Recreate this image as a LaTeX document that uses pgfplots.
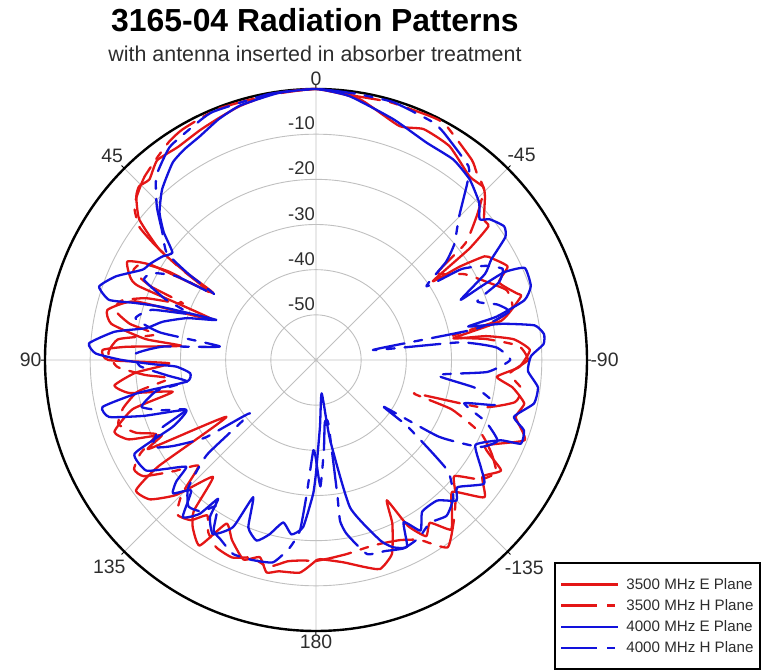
\documentclass[border=0pt]{standalone}
\usepackage{fontspec}
\setmainfont{Liberation Sans}
\usepackage{pgfplots}
\pgfplotsset{compat=1.18}
\usepgfplotslibrary{polar}
\definecolor{cRed}{RGB}{228,22,22}
\definecolor{cBlue}{RGB}{18,18,220}
\definecolor{gridgray}{RGB}{192,192,192}
\definecolor{lbl}{RGB}{45,45,45}
\begin{document}
\begin{tikzpicture}
\begin{polaraxis}[
  name=pa,
  scale only axis, width=542bp, height=542bp,
  xmin=0, xmax=360, ymin=0, ymax=60,
  clip=false,
  xtick={0,45,...,315},
  xticklabels={-90,-45,0,45,90,135,180,-135},
  ytick={10,20,30,40,50},
  yticklabels={},
  ytick style={draw=none},
  grid=major,
  major grid style={gridgray, line width=0.9bp},
  axis line style={black, line width=2.4bp},
  y axis line style={draw=none},
  x tick style={black, line width=1bp},
  major tick length=4bp,
  xticklabel style={font=\fontsize{19.5}{19.5}\selectfont, text=lbl},
  x filter/.expression={x+90},
  y filter/.expression={y+60},
  every axis plot/.append style={line width=2.3bp, line join=round, line cap=round, smooth, tension=0.3},
  legend style={at={(axis description cs:0.939,0.127)}, anchor=north west,
    draw=black, line width=2bp, fill=white,
    font=\fontsize{15.2}{15.2}\selectfont, text=lbl,
    inner xsep=5bp, inner ysep=13bp, row sep=4.8bp,
    cells={anchor=west}},
  legend image code/.code={\draw[#1, line width=2.6bp, line cap=butt, sharp plot] (0bp,0bp) -- (57bp,0bp); \path (62bp,0bp);},
]
% 3500 MHz E Plane
\addplot[cRed] coordinates {
(-180,-15.6) (-178.8,-15.9) (-172.3,-14.8) (-167,-13) (-162.9,-11.6) (-158.6,-13.9) (-155,-20) (-153.2,-25.2)
(-151,-18) (-148,-14) (-145,-16) (-141.5,-12) (-138,-15) (-134,-18) (-129.2,-11.9) (-125,-15) (-120.8,-12.3)
(-117,-18) (-111,-10.5) (-106,-14) (-101.8,-12.9) (-98,-16) (-95.3,-19.8) (-92,-15) (-87.3,-12.6) (-84,-16)
(-82,-22) (-81,-29.2) (-78,-18) (-72.8,-12.5) (-71.6,-13.2) (-67,-16) (-64,-12.8) (-60,-15) (-58.4,-16.2)
(-57,-22) (-56,-28.8) (-54,-18) (-52.2,-11.7) (-50.1,-11.5) (-46,-8) (-44,-6.7) (-39.9,-7) (-32,-4.2)
(-25,-3.6) (-19.6,-5) (-9.4,-1.4) (0,0)
(9.2,-0.3) (16.7,-1.3) (22,-2.3) (26.8,-3) (33,-3.8) (38.5,-3.5) (42.7,-5.6) (45.5,-5.1) (47.7,-6.2)
(51.5,-10) (54.8,-17.6) (56,-25) (57,-32.8) (60,-18) (62.4,-12.9) (66,-15) (67.4,-17.6) (68.7,-35.5)
(72,-18) (76.5,-12.5) (80,-14) (83,-22) (84,-30) (86,-18) (87.3,-12.7) (90,-14) (91.3,-27.5) (94,-20)
(97.2,-15) (100,-18) (102.5,-27.5) (105,-18) (109.6,-12.6) (113,-15) (116,-22) (118,-18) (122.4,-36.5)
(124,-18) (125.9,-10.8) (130,-12) (134,-17) (138.6,-25.5) (141,-17) (143.6,-14) (147.9,-11.5) (151.3,-18.7)
(155,-16) (160,-13) (164.1,-14.6) (166.9,-11.7) (170,-12.5) (175.7,-12.8) (180,-15.6)
};
\addlegendentry{3500 MHz E Plane}
% 3500 MHz H Plane
\addplot[cRed, dash pattern=on 36bp off 10bp on 8bp off 10bp] coordinates {
(-180,-15.5) (-176,-16) (-171,-16.5) (-165,-17) (-160.8,-16.9) (-155,-16) (-150,-14) (-144.9,-9.3)
(-138.7,-13.6) (-134,-17) (-130,-20) (-126,-15) (-122,-13) (-118,-16) (-114,-20) (-110,-28) (-108.8,-37.1)
(-106,-22) (-102,-15) (-98,-14) (-94,-17) (-90,-13.1) (-86,-15) (-83,-22) (-80.2,-29.7) (-78,-20) (-75,-15)
(-70,-15) (-66,-18) (-60,-22) (-54.4,-26.9) (-52,-18) (-48,-12) (-44.5,-7) (-40.5,-5.3) (-37.8,-3.8)
(-28.7,-0.5) (-25,-0.4) (-16,-0.6) (-8.6,-0.9) (0,0)
(10,-0.4) (21.4,-0.3) (30,-1) (33.8,-1.7) (38,-3) (43,-4.4) (46,-5.6) (49.8,-7.3) (53,-11) (54.6,-16.7)
(56,-24) (57.5,-32) (59,-22) (61,-16) (64,-15) (66,-20) (67,-28) (70,-20) (73,-15) (76,-14) (79,-18)
(81,-24) (84,-16) (88,-14) (92,-16) (95,-22) (97.2,-27.3) (100,-20) (104,-16) (108,-14) (112,-17)
(115,-21) (118,-16) (121,-13) (124,-14) (128,-20) (132,-25) (135,-18) (138,-14) (142,-15) (145,-18)
(148,-15) (152,-13) (157,-12.5) (162,-14) (167,-13) (172,-15) (176,-15.5) (180,-15.5)
};
\addlegendentry{3500 MHz H Plane}
% 4000 MHz E Plane
\addplot[cBlue] coordinates {
(-180,-35) (-176.6,-45.2) (-170.3,-52.5) (-170,-42) (-167,-26.5) (-160.4,-17.6) (-157.5,-15.1) (-154,-14)
(-151.6,-19.2) (-148.5,-15.7) (-145,-19) (-139.2,-18.9) (-135,-16) (-132,-17.9) (-126.4,-13.8) (-123,-16.5)
(-118,-20) (-113.5,-15.4) (-112.2,-11) (-108.7,-11.4) (-106,-14.4) (-101.3,-10.8) (-97,-10.5) (-93,-13)
(-89,-12.4) (-86,-9.5) (-83.5,-9.2) (-81,-11) (-79,-18) (-77.6,-25.5) (-76.5,-18.9) (-74,-12) (-71,-9.7)
(-66.2,-9.5) (-65,-14) (-66,-20) (-67.4,-25.3) (-63,-18) (-60.2,-15.3) (-57,-10) (-54.6,-8.9) (-51,-10.5)
(-49.3,-12.2) (-46,-9.8) (-40.4,-7.5) (-34.4,-6.2) (-26.9,-6) (-17.8,-4) (-7.2,-1.1) (0,0)
(8,-0.3) (16.6,-1.2) (22,-2.5) (27.5,-4.2) (32,-5) (36,-6) (42,-9.1) (46.7,-12.4) (50,-16) (53.2,-20.3)
(56,-19) (60,-17.5) (62.5,-16.7) (67.3,-12) (71.3,-9.3) (73.8,-12.3) (72.5,-18) (71,-24) (68.1,-36.2)
(72,-30) (76,-25) (79.4,-21.7) (82,-15) (85.8,-9.6) (88.3,-11.2) (90,-17) (91.5,-24) (92.7,-29) (96,-32)
(99.5,-31) (100.5,-20) (102.4,-11.6) (105.4,-12.5) (108,-20) (111.1,-29.2) (115,-25) (117.3,-14.8)
(123,-15.1) (126,-19) (129.5,-22.8) (131,-19) (133,-16.7) (136.3,-20) (139.7,-14.4) (142.9,-17.3)
(144.8,-22.4) (146,-18) (149.4,-15.2) (153.6,-18.7) (155.4,-26.6) (158,-20) (161.8,-17.9) (165,-20)
(168.6,-23.3) (172,-21) (175.6,-22.9) (178.8,-30.4) (180,-35)
};
\addlegendentry{4000 MHz E Plane}
% 4000 MHz H Plane
\addplot[cBlue, dash pattern=on 36bp off 10bp on 8bp off 10bp] coordinates {
(-180,-38) (-178,-32) (-175,-40) (-172,-46) (-169,-45.7) (-171,-30) (-171.5,-24) (-170,-20.9) (-165.3,-15.6)
(-160,-15) (-155,-14) (-150,-14.5) (-145,-16) (-140,-15) (-135,-17) (-130,-22) (-126,-34.9) (-124.6,-41.7)
(-122,-28) (-118,-19) (-114,-16) (-110,-20) (-106.3,-25.8) (-104,-19) (-100,-24) (-97.1,-33) (-94,-22)
(-90,-17) (-86,-20) (-83,-28) (-80,-47.2) (-79,-24) (-76,-16) (-73,-18) (-70,-22) (-67,-16) (-64,-14)
(-61,-17) (-58,-22) (-56.3,-30.6) (-53,-24) (-50,-20) (-44.9,-15.1) (-40.5,-8.4) (-38.2,-5.4) (-29.2,-2.2)
(-25.8,-1.3) (-16.7,-0.4) (-8.6,-0.4) (0,0)
(10,-0.2) (22.6,-0.5) (28,-1.6) (34.5,-2.8) (41,-6.1) (46,-11) (50,-15.5) (54.3,-19.3) (56,-26) (57.2,-33.3)
(59,-24) (62,-19) (65,-18) (68,-24) (70,-30) (73,-22) (77,-19) (80,-25) (82,-38.5) (85,-26) (88,-20)
(92,-21) (96,-27) (99.5,-31) (101,-24) (105,-20) (108,-24) (111,-29.2) (114,-22) (118,-19) (121,-23)
(125,-30) (128.9,-41.2) (131,-28) (135,-20) (139,-17) (143,-18) (146,-21) (149,-16) (152,-15) (156.8,-13.3)
(162,-13.5) (168,-14.2) (172,-18) (174.6,-22) (176,-30) (178.3,-40) (180,-38)
};
\addlegendentry{4000 MHz H Plane}
\end{polaraxis}
\pgfresetboundingbox
\path[use as bounding box] ([shift={(-316bp,-310bp)}]pa.center) rectangle ([shift={(448bp,360bp)}]pa.center);
\node[anchor=base, font=\bfseries\fontsize{32}{32}\selectfont] at ([shift={(-1bp,328bp)}]pa.center) {3165-04 Radiation Patterns};
\node[anchor=base, font=\fontsize{21.5}{21.5}\selectfont, text=lbl] at ([shift={(-1bp,298bp)}]pa.center) {with antenna inserted in absorber treatment};
\foreach \k in {1,...,5}{
  \pgfmathsetmacro{\rr}{271-45.17*\k}
  \pgfmathtruncatemacro{\dd}{-10*\k}
  \node[anchor=south east, inner sep=0pt, font=\fontsize{18.5}{18.5}\selectfont, text=lbl] at ([shift={(-1bp,\rr bp+4bp)}]pa.center) {\dd};
}
\end{tikzpicture}
\end{document}
